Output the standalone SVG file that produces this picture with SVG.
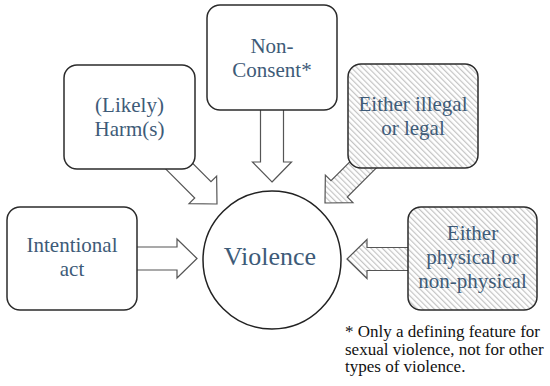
<svg xmlns="http://www.w3.org/2000/svg" width="550" height="386" viewBox="0 0 550 386">
<style>
.box{fill:#fff;stroke:#2b2b2b;stroke-width:1.5}
.hbox{fill:url(#hatch);stroke:#2b2b2b;stroke-width:1.5}
.arr{fill:#fff;stroke:#555;stroke-width:1.2}
.t{font-size:21px;fill:#3e5b78;text-anchor:middle}
.big{font-size:26px}
.fn{font-size:17px;fill:#111}
</style>
<defs>
<pattern id="hatch" patternUnits="userSpaceOnUse" width="4" height="4" patternTransform="rotate(-45)">
<rect width="4" height="4" fill="#fff"/>
<line x1="0.6" y1="0" x2="0.6" y2="4" stroke="#c4c4c4" stroke-width="1.2"/>
</pattern>
<pattern id="hatchA" href="#hatch" patternTransform="rotate(-180)"/>
<pattern id="hatchB" href="#hatch" patternTransform="rotate(-225)"/>
<path id="arrow" d="M0,0 L-20,-19.5 L-20,-11.5 L-75,-11.5 L-75,11.5 L-20,11.5 L-20,19.5 Z"/>
</defs>
<g id="connectors">
<use href="#arrow" class="arr" transform="translate(197,258.5)"/>
<use href="#arrow" class="arr" transform="translate(217,204) rotate(45)"/>
<use href="#arrow" class="arr" transform="translate(272,182) rotate(90)"/>
<use href="#arrow" class="arr" style="fill:url(#hatchA)" transform="translate(325,203) rotate(135)"/>
<use href="#arrow" class="arr" style="fill:url(#hatchB)" transform="translate(347,259) rotate(180)"/>
</g>
<g font-family="Liberation Serif, DejaVu Serif, serif">
<g id="intentional">
<rect class="box" x="7" y="207" width="130" height="103" rx="13"/>
<text class="t" x="72" y="252">Intentional</text>
<text class="t" x="72" y="276">act</text>
</g>
<g id="harm">
<rect class="box" x="64" y="65" width="131" height="104" rx="13"/>
<text class="t" x="129.5" y="111.5">(Likely)</text>
<text class="t" x="129.5" y="135.5">Harm(s)</text>
</g>
<g id="nonconsent">
<rect class="box" x="207" y="5" width="130" height="105" rx="13"/>
<text class="t" x="272" y="53">Non-</text>
<text class="t" x="272" y="77">Consent*</text>
</g>
<g id="illegal">
<rect class="hbox" x="348" y="64" width="130" height="104" rx="13"/>
<text class="t" x="413" y="111">Either illegal</text>
<text class="t" x="413" y="135">or legal</text>
</g>
<g id="physical">
<rect class="hbox" x="408" y="207" width="129" height="103" rx="13"/>
<text class="t" x="472.5" y="240">Either</text>
<text class="t" x="472.5" y="264">physical or</text>
<text class="t" x="472.5" y="288">non-physical</text>
</g>
<g id="violence">
<circle cx="272" cy="260" r="69" fill="#fff" stroke="#222" stroke-width="1.5"/>
<text class="t big" x="270" y="265">Violence</text>
</g>
<g id="footnote">
<text class="fn" x="345" y="337">* Only a defining feature for</text>
<text class="fn" x="345" y="354.5">sexual violence, not for other</text>
<text class="fn" x="345" y="372">types of violence.</text>
</g>
</g>
</svg>
